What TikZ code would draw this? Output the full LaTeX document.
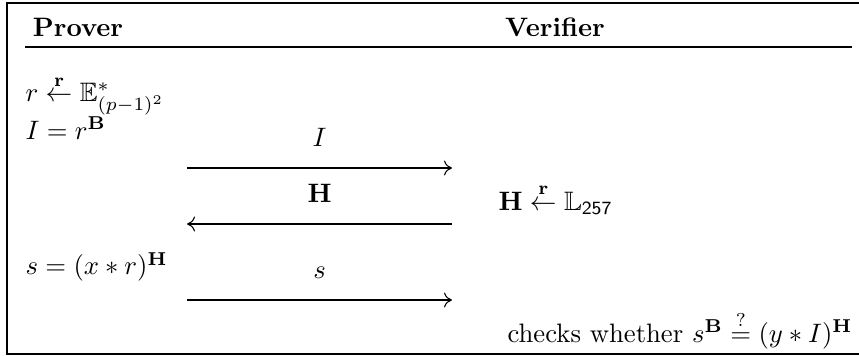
\documentclass[tikz,border=0pt]{standalone}
\usepackage{amsmath, amssymb}
\usepackage{tikz}
\usetikzlibrary{calc, positioning, arrows.meta}

\begin{document}
\begin{tikzpicture}[x=0.375pt, y=-0.375pt, line width=0.4pt,
    party/.style={font=\bfseries, inner sep=0pt},
    calcline/.style={anchor=west, inner sep=0pt},
    msg/.style={-{To[length=3pt, width=5.6pt]}},
    msglabel/.style={inner sep=0pt, above=8pt}]
  \useasboundingbox (0,0) rectangle (859,356);
  % frame and header
  \draw[line width=0.6pt] (859,3) -- (7,3) -- (7,354) -- (859,354);
  \node[party] (prover) at (78,27) {Prover};
  \node[party] (verifier) at (555,27) {Verifier};
  \coordinate (hl) at (25,47);
  \coordinate (hr) at (852,47);
  \draw (hl) -- (hr);
  % prover side
  \node[calcline] (commit) at (25,95) {$r \overset{\mathbf{r}}{\leftarrow} \mathbb{E}^*_{(p-1)^2}$};
  \node[calcline] (ival) at (25,128) {$I = r^{\mathbf{B}}$};
  \node[calcline] (sval) at (25,267) {$s = (x * r)^{\mathbf{H}}$};
  % verifier side
  \node[calcline] (chal) at (498,199) {$\mathbf{H} \overset{\mathbf{r}}{\leftarrow} \mathbb{L}_{\mathsf{257}}$};
  \node[calcline] (check) at (507,330) {checks whether $s^{\mathbf{B}} \overset{?}{=} (y * I)^{\mathbf{H}}$};
  % messages
  \coordinate (m1l) at (187,168);
  \coordinate (m1r) at (452,168);
  \coordinate (m2l) at (187,224);
  \coordinate (m2r) at (452,224);
  \coordinate (m3l) at (187,300);
  \coordinate (m3r) at (452,300);
  \draw[msg] (m1l) -- node[msglabel] (lbi) {$I$} (m1r);
  \draw[msg] (m2r) -- node[msglabel] (lbh) {$\mathbf{H}$} (m2l);
  \draw[msg] (m3l) -- node[msglabel] (lbs) {$s$} (m3r);
\end{tikzpicture}
\end{document}
